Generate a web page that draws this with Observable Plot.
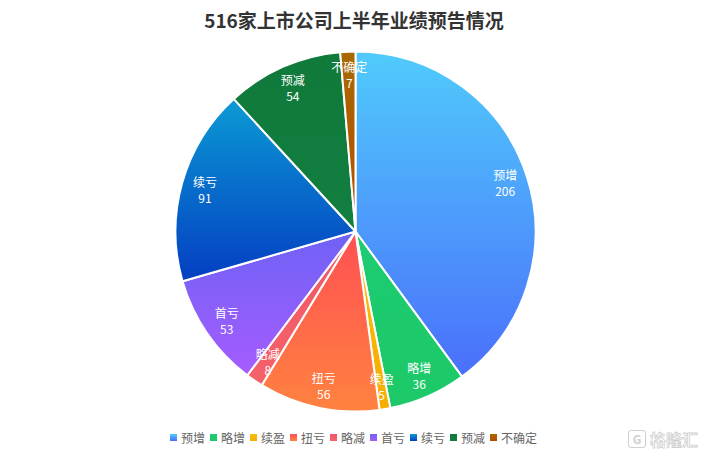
<!DOCTYPE html>
<html><head><meta charset="utf-8">
<script src="https://cdn.jsdelivr.net/npm/d3@7"></script>
<script src="https://cdn.jsdelivr.net/npm/@observablehq/plot@0.6"></script>
<style>
body{margin:0;background:#fff;font-family:"Noto Sans CJK SC","Noto Sans",sans-serif;}
#wrap{position:relative;width:708px;height:456px;overflow:hidden;}
#title{position:absolute;top:0;left:0;width:708px;text-align:center;font-weight:bold;font-size:19px;color:#333;line-height:40px;}
#chart{position:absolute;top:40px;left:0;}
#legend{position:absolute;top:428px;left:0;width:708px;height:18px;display:flex;justify-content:center;align-items:center;font-size:12px;color:#666;padding-left:4px;box-sizing:border-box;}
.item{display:flex;align-items:center;margin-right:5px;}
.sw{width:7px;height:7px;margin-right:4px;}
#wm{position:absolute;left:628px;top:427px;font-size:16px;color:#fff;-webkit-text-stroke:0.8px #cfcfcf;display:flex;align-items:center;font-weight:bold;}
#wm .box{width:16px;height:16px;border:1.5px solid #d0d0d0;border-radius:3px;margin-right:4px;font-size:12px;line-height:16px;text-align:center;-webkit-text-stroke:0;color:#d0d0d0;}
</style></head>
<body>
<div id="wrap">
  <div id="title"></div>
  <div id="chart"></div>
  <div id="legend"></div>
  <div id="wm"><span class="box">G</span>格隆汇</div>
</div>
<script>
const titleText = "516家上市公司上半年业绩预告情况";
const categories = ["预增","略增","续盈","扭亏","略减","首亏","续亏","预减","不确定"];
const values = [206, 36, 5, 56, 8, 53, 91, 54, 7];
const topColors = ["#50cbfc","#1ccc73","#fbbf10","#ff4f52","#f05868","#6e62f5","#0b9ad4","#0f7a3a","#a86a00"];
const bottomColors = ["#4a6ffb","#1dc967","#f5ad00","#ff8240","#f5626a","#a65cff","#043ec2","#127e40","#b84a00"];

document.getElementById("title").textContent = titleText;

const data = categories.map((name, i) => ({name, value: values[i], i}));
const arcs = d3.pie().sort(null).value(d => d.value)(data);

const W = 708, H = 380, R = 180, CX = 355.5, CY = 191.5;
const labelR = 0.872;

function pieMark(index, scales) {
  const cx = scales.x(0), cy = scales.y(0), r = scales.x(1) - scales.x(0);
  const g = d3.create("svg:g");
  const defs = g.append("defs");
  arcs.forEach((a, i) => {
    const lg = defs.append("linearGradient").attr("id", "grad" + i)
      .attr("x1", 0).attr("y1", 0).attr("x2", 0).attr("y2", 1);
    lg.append("stop").attr("offset", 0).attr("stop-color", topColors[i]);
    lg.append("stop").attr("offset", 1).attr("stop-color", bottomColors[i]);
  });
  const arc = d3.arc().innerRadius(0).outerRadius(r);
  g.append("g").attr("transform", `translate(${cx},${cy})`)
    .selectAll("path").data(arcs).join("path")
    .attr("d", arc)
    .attr("fill", (d, i) => `url(#grad${i})`)
    .attr("stroke", "#fff").attr("stroke-width", 2).attr("stroke-linejoin", "round");
  return g.node();
}

const mid = a => (a.startAngle + a.endAngle) / 2;

const plot = Plot.plot({
  width: W, height: H,
  margin: 0,
  x: {domain: [-CX / R, (W - CX) / R], axis: null},
  y: {domain: [-(H - CY) / R, CY / R], axis: null},
  style: {fontFamily: "'Noto Sans CJK SC','Noto Sans',sans-serif", background: "transparent", overflow: "visible"},
  marks: [
    pieMark,
    Plot.text(arcs, {
      x: a => labelR * Math.sin(mid(a)),
      y: a => labelR * Math.cos(mid(a)),
      text: a => a.data.name + "\n" + a.data.value,
      fill: "#fff", fontSize: 12, lineHeight: 1.33
    })
  ]
});
document.getElementById("chart").appendChild(plot);

const legend = document.getElementById("legend");
categories.forEach((name, i) => {
  const it = document.createElement("div"); it.className = "item";
  const sw = document.createElement("div"); sw.className = "sw";
  sw.style.background = `linear-gradient(${topColors[i]}, ${bottomColors[i]})`;
  const t = document.createElement("span"); t.textContent = name;
  it.appendChild(sw); it.appendChild(t); legend.appendChild(it);
});
</script>
</body></html>
